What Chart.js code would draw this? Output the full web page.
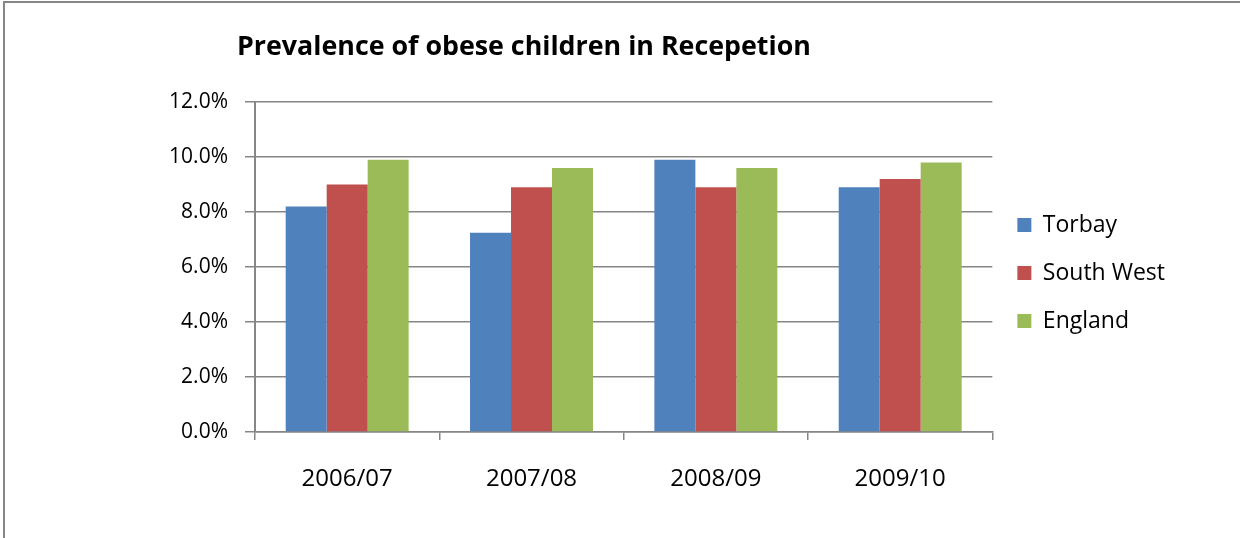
<!DOCTYPE html>
<html>
<head>
<meta charset="utf-8">
<script src="https://cdn.jsdelivr.net/npm/chart.js@4"></script>
<style>
	body { margin: 0; background: #ffffff; }
	#wrap { position: relative; width: 1240px; height: 538px; }
	#frame { position: absolute; left: 3px; top: 1px; width: 1240px; height: 540px; border-top: 2px solid #868686; border-left: 2px solid #868686; box-sizing: border-box; }
	canvas { position: absolute; left: 0; top: 0; }
</style>
</head>
<body>
<div id="wrap">
	<div id="frame"></div>
	<canvas id="chart" width="1240" height="538"></canvas>
</div>
<script>
// Chart data
const chartTitle = 'Prevalence of obese children in Recepetion';
const years = ['2006/07', '2007/08', '2008/09', '2009/10'];
const torbay = [8.2, 7.25, 9.9, 8.9];
const southWest = [9.0, 8.9, 8.9, 9.2];
const england = [9.9, 9.6, 9.6, 9.8];

const gridGrey = '#868686';
const fontFamily = '"Open Sans", "Noto Sans", sans-serif';

// Title drawn at the left-offset position used in the original
const titlePlugin = {
	id: 'leftTitle',
	afterDraw(chart) {
		const ctx = chart.ctx;
		ctx.save();
		ctx.font = 'bold 26.8px ' + fontFamily;
		ctx.fillStyle = '#000000';
		ctx.textBaseline = 'middle';
		ctx.textAlign = 'left';
		ctx.fillText(chartTitle, 237, 47);
		ctx.restore();
	}
};

new Chart(document.getElementById('chart').getContext('2d'), {
	type: 'bar',
	data: {
		labels: years,
		datasets: [
			{ label: 'Torbay', data: torbay, backgroundColor: '#4F81BD' },
			{ label: 'South West', data: southWest, backgroundColor: '#C0504D' },
			{ label: 'England', data: england, backgroundColor: '#9BBB59' }
		]
	},
	options: {
		responsive: false,
		animation: false,
		categoryPercentage: 0.667,
		barPercentage: 1.0,
		layout: {
			padding: { top: 102, left: 150, right: 65, bottom: 0 }
		},
		plugins: {
			legend: {
				position: 'right',
				fullSize: false,
				title: {
					display: true,
					text: '',
					padding: 0,
					font: { size: 10 }
				},
				labels: {
					boxWidth: 14,
					boxHeight: 14,
					padding: 25,
					color: '#000000',
					font: { family: fontFamily, size: 23 }
				}
			},
			tooltip: { enabled: false }
		},
		scales: {
			x: {
				afterFit(scale) { scale.height = 106; },
				grid: {
					drawOnChartArea: false,
					drawTicks: true,
					tickLength: 8,
					color: gridGrey,
					lineWidth: 1.5
				},
				border: { color: gridGrey, width: 1.5 },
				ticks: {
					padding: 25,
					color: '#000000',
					font: { family: fontFamily, size: 24 }
				}
			},
			y: {
				min: 0,
				max: 12,
				afterFit(scale) { scale.width = 105; },
				grid: {
					color: gridGrey,
					lineWidth: 1.5,
					tickLength: 10
				},
				border: { color: gridGrey, width: 2 },
				ticks: {
					stepSize: 2,
					padding: 17,
					color: '#000000',
					font: { family: fontFamily, size: 21 },
					callback: function(value) {
						return value.toFixed(1) + '%';
					}
				}
			}
		}
	},
	plugins: [titlePlugin]
});
</script>
</body>
</html>
